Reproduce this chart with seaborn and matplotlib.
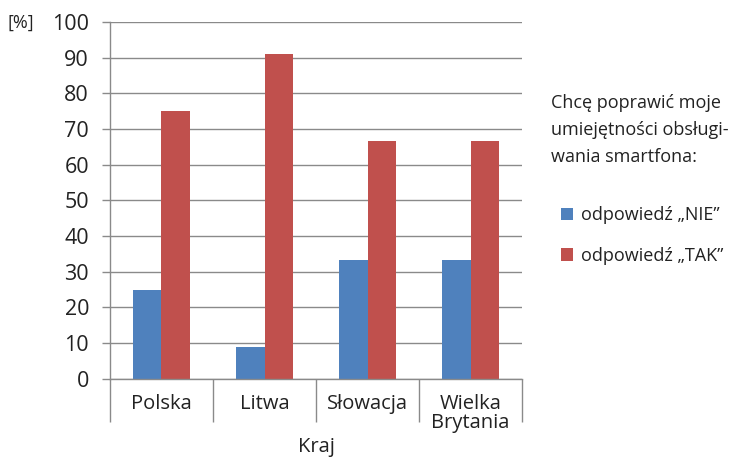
import numpy as np
import pandas as pd
import matplotlib
matplotlib.use("Agg")
import matplotlib.pyplot as plt
from matplotlib.patches import Patch
import seaborn as sns

# ── Data ─────────────────────────────────────────────────────────────────────
countries = ["Polska", "Litwa", "Słowacja", "Wielka\nBrytania"]
nie_values = [25, 9, 33.3, 33.3]
tak_values = [75, 91, 66.7, 66.7]
series_names = ["odpowiedź „NIE”", "odpowiedź „TAK”"]
y_ticks = list(range(0, 101, 10))

BLUE = "#4F81BD"
RED = "#C0504D"
GRID = "#8a8a8a"
TEXT = "#222222"

sns.set_theme(style="white")
plt.rcParams["font.family"] = ["Open Sans", "DejaVu Sans"]

df = pd.DataFrame({
    "Kraj": countries * 2,
    "Wartość": nie_values + tak_values,
    "Odpowiedź": [series_names[0]] * 4 + [series_names[1]] * 4,
})

fig = plt.figure(figsize=(7.48, 4.57), dpi=100)
ax = fig.add_axes([0.147, 0.171, 0.551, 0.781])

sns.barplot(data=df, x="Kraj", y="Wartość", hue="Odpowiedź",
            palette=[BLUE, RED], width=0.56, gap=0, saturation=1,
            linewidth=0, legend=False, ax=ax, order=countries)

ax.set_xlim(-0.5, len(countries) - 0.5)
ax.set_ylim(0, 100)
ax.set_yticks(y_ticks)
ax.yaxis.grid(True, color=GRID, linewidth=1)
ax.set_axisbelow(True)

for side in ["top", "right"]:
    ax.spines[side].set_visible(False)
for side in ["left", "bottom"]:
    ax.spines[side].set_color(GRID)
    ax.spines[side].set_linewidth(1)

ax.tick_params(axis="y", which="major", length=6, width=1, color=GRID,
               direction="out", labelsize=15.5, labelcolor=TEXT, pad=9, left=True)
ax.tick_params(axis="x", which="major", length=0, labelsize=14.5,
               labelcolor=TEXT, pad=11)
ax.set_xticks(np.arange(-0.5, len(countries), 1.0), minor=True)
ax.tick_params(axis="x", which="minor", length=31, width=1, color=GRID,
               direction="out", bottom=True)
for lbl in ax.get_xticklabels():
    lbl.set_linespacing(0.9)

ax.set_xlabel("Kraj", fontsize=14.5, color=TEXT, labelpad=3)
ax.set_ylabel("")
fig.text(0.010, 0.950, "[%]", fontsize=13, color=TEXT, va="center", ha="left")

fig.text(0.737, 0.795, "Chcę poprawić moje\numiejętności obsługi-\nwania smartfona:",
         fontsize=13, color=TEXT, va="top", ha="left", linespacing=1.65)

handles = [Patch(facecolor=BLUE, edgecolor="none"),
           Patch(facecolor=RED, edgecolor="none")]
fig.legend(handles, series_names, loc="upper left", bbox_to_anchor=(0.728, 0.584),
           frameon=False, fontsize=13, handlelength=0.7, handleheight=0.7,
           handletextpad=0.4, labelspacing=1.25, labelcolor=TEXT)

fig.savefig("out.png", dpi=100)
